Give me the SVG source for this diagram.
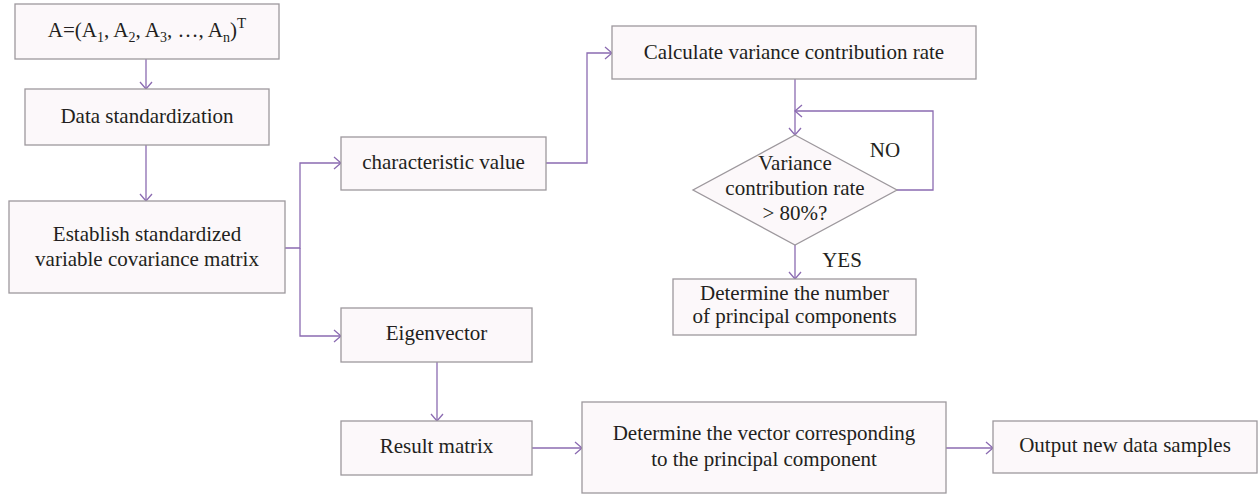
<svg xmlns="http://www.w3.org/2000/svg" width="1258" height="494" viewBox="0 0 1258 494">
<style>
.box{fill:#fcf8fa;stroke:#9d989d;stroke-width:1.3}
.t{font-family:"Liberation Serif","Times New Roman",serif;font-size:21px;fill:#231f20;text-anchor:middle}
.c{fill:none;stroke:#8b6bb1;stroke-width:1.3}
</style>
<defs>
<marker id="ah" viewBox="-9 -8 10 16" refX="0" refY="0" markerWidth="10" markerHeight="16" markerUnits="userSpaceOnUse" orient="auto">
<path d="M-7,-6 L0,0 L-7,6" fill="none" stroke="#8b6bb1" stroke-width="1.3"/>
</marker>
</defs>
<rect width="1258" height="494" fill="#ffffff"/>
<g id="connectors">
<path class="c" d="M146,59 V89" marker-end="url(#ah)"/>
<path class="c" d="M146,145 V201" marker-end="url(#ah)"/>
<path class="c" d="M285,248 H300 V163 H341" marker-end="url(#ah)"/>
<path class="c" d="M300,248 V336 H341" marker-end="url(#ah)"/>
<path class="c" d="M546,163 H587 V53 H612" marker-end="url(#ah)"/>
<path class="c" d="M795,79 V135" marker-end="url(#ah)"/>
<path class="c" d="M896,190 H933 V111 H795" marker-end="url(#ah)"/>
<path class="c" d="M795,245 V279" marker-end="url(#ah)"/>
<path class="c" d="M437,362 V421" marker-end="url(#ah)"/>
<path class="c" d="M532,448 H582" marker-end="url(#ah)"/>
<path class="c" d="M946,448 H993" marker-end="url(#ah)"/>
</g>
<g id="n-input">
<rect class="box" x="15" y="4" width="264" height="55"/>
<text class="t" x="147" y="37">A=(A<tspan font-size="14" dy="5">1</tspan><tspan dy="-5">, A</tspan><tspan font-size="14" dy="5">2</tspan><tspan dy="-5">, A</tspan><tspan font-size="14" dy="5">3</tspan><tspan dy="-5">, …, A</tspan><tspan font-size="14" dy="5">n</tspan><tspan dy="-5">)</tspan><tspan font-size="15" dy="-9">T</tspan></text>
</g>
<g id="n-standardize">
<rect class="box" x="25" y="89" width="244" height="56"/>
<text class="t" x="147" y="123">Data standardization</text>
</g>
<g id="n-covariance">
<rect class="box" x="9" y="201" width="276" height="92"/>
<text class="t" x="147" y="241">Establish standardized</text>
<text class="t" x="147" y="266">variable covariance matrix</text>
</g>
<g id="n-charvalue">
<rect class="box" x="341" y="137" width="205" height="53"/>
<text class="t" x="443.5" y="169">characteristic value</text>
</g>
<g id="n-eigenvector">
<rect class="box" x="341" y="308" width="191" height="54"/>
<text class="t" x="436.5" y="340">Eigenvector</text>
</g>
<g id="n-variance">
<rect class="box" x="612" y="26" width="364" height="53"/>
<text class="t" x="794" y="59">Calculate variance contribution rate</text>
</g>
<g id="n-decision">
<polygon class="box" points="795,135 897,190 795,245 693,190"/>
<text class="t" x="795" y="170">Variance</text>
<text class="t" x="795" y="195">contribution rate</text>
<text class="t" x="795" y="220">&gt; 80%?</text>
</g>
<g id="labels">
<text class="t" x="885" y="157">NO</text>
<text class="t" x="842" y="267">YES</text>
</g>
<g id="n-number">
<rect class="box" x="673" y="279" width="243" height="56"/>
<text class="t" x="794.5" y="300">Determine the number</text>
<text class="t" x="794.5" y="323">of principal components</text>
</g>
<g id="n-result">
<rect class="box" x="341" y="421" width="191" height="54"/>
<text class="t" x="436.5" y="453">Result matrix</text>
</g>
<g id="n-vector">
<rect class="box" x="582" y="402" width="364" height="91"/>
<text class="t" x="764" y="440">Determine the vector corresponding</text>
<text class="t" x="764" y="466">to the principal component</text>
</g>
<g id="n-output">
<rect class="box" x="993" y="421" width="264" height="52"/>
<text class="t" x="1125" y="452">Output new data samples</text>
</g>
</svg>
